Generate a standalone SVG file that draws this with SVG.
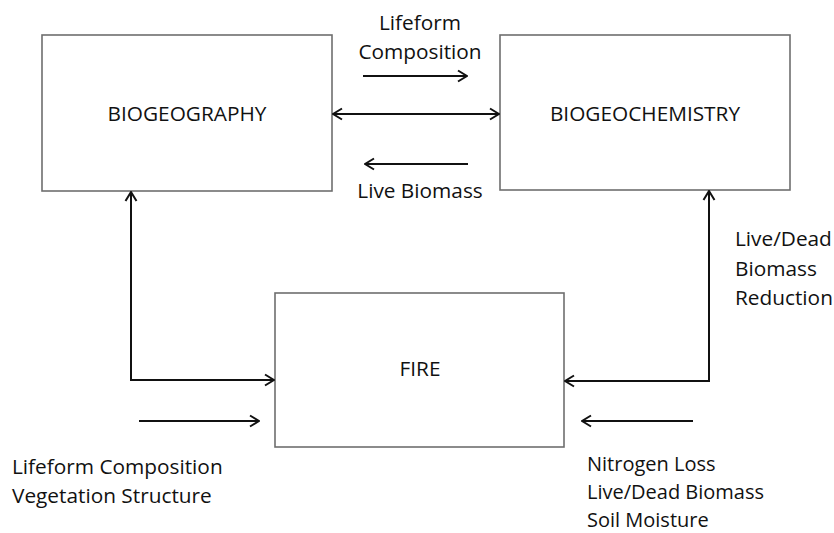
<svg xmlns="http://www.w3.org/2000/svg" width="834" height="533" viewBox="0 0 834 533">
<defs>
<marker id="ah" markerUnits="userSpaceOnUse" markerWidth="12" markerHeight="14" viewBox="0 0 12 14" refX="11" refY="7" orient="auto-start-reverse">
<path d="M2,1.5 L11,7 L2,12.5" fill="none" stroke="#111" stroke-width="2"/>
</marker>
</defs>
<style>
.box{fill:#fff;stroke:#6e6e6e;stroke-width:1.6}
.t{font-family:"Open Sans","Liberation Sans",sans-serif;font-size:20.8px;fill:#111}
.s{font-size:20px}
.c{fill:none;stroke:#111;stroke-width:2}
</style>
<rect width="834" height="533" fill="#fff"/>
<g id="biogeography">
<rect class="box" x="42" y="35" width="290" height="156"/>
<text class="t" x="187" y="121" text-anchor="middle">BIOGEOGRAPHY</text>
</g>
<g id="biogeochemistry">
<rect class="box" x="500" y="35" width="290" height="155"/>
<text class="t" x="645" y="121" text-anchor="middle">BIOGEOCHEMISTRY</text>
</g>
<g id="fire">
<rect class="box" x="275" y="293" width="289" height="154"/>
<text class="t" x="420" y="376" text-anchor="middle">FIRE</text>
</g>
<g id="connectors">
<line class="c" x1="333" y1="114" x2="499" y2="114" marker-start="url(#ah)" marker-end="url(#ah)"/>
<line class="c" x1="363" y1="76" x2="467" y2="76" marker-end="url(#ah)"/>
<line class="c" x1="468" y1="164" x2="365" y2="164" marker-end="url(#ah)"/>
<polyline class="c" points="274,380 131,380 131,192" marker-start="url(#ah)" marker-end="url(#ah)"/>
<polyline class="c" points="565,381 709,381 709,191" marker-start="url(#ah)" marker-end="url(#ah)"/>
<line class="c" x1="139" y1="421" x2="259" y2="421" marker-end="url(#ah)"/>
<line class="c" x1="693" y1="421" x2="582" y2="421" marker-end="url(#ah)"/>
</g>
<g id="labels">
<text class="t" x="420" y="30" text-anchor="middle">Lifeform</text>
<text class="t" x="420" y="59" text-anchor="middle">Composition</text>
<text class="t" x="420" y="198" text-anchor="middle">Live Biomass</text>
<text class="t" x="735" y="246">Live/Dead</text>
<text class="t" x="735" y="276">Biomass</text>
<text class="t" x="735" y="305">Reduction</text>
<text class="t" x="12" y="474">Lifeform Composition</text>
<text class="t" x="12" y="503">Vegetation Structure</text>
<text class="t s" x="587" y="471">Nitrogen Loss</text>
<text class="t s" x="587" y="499">Live/Dead Biomass</text>
<text class="t s" x="587" y="527">Soil Moisture</text>
</g>
</svg>
